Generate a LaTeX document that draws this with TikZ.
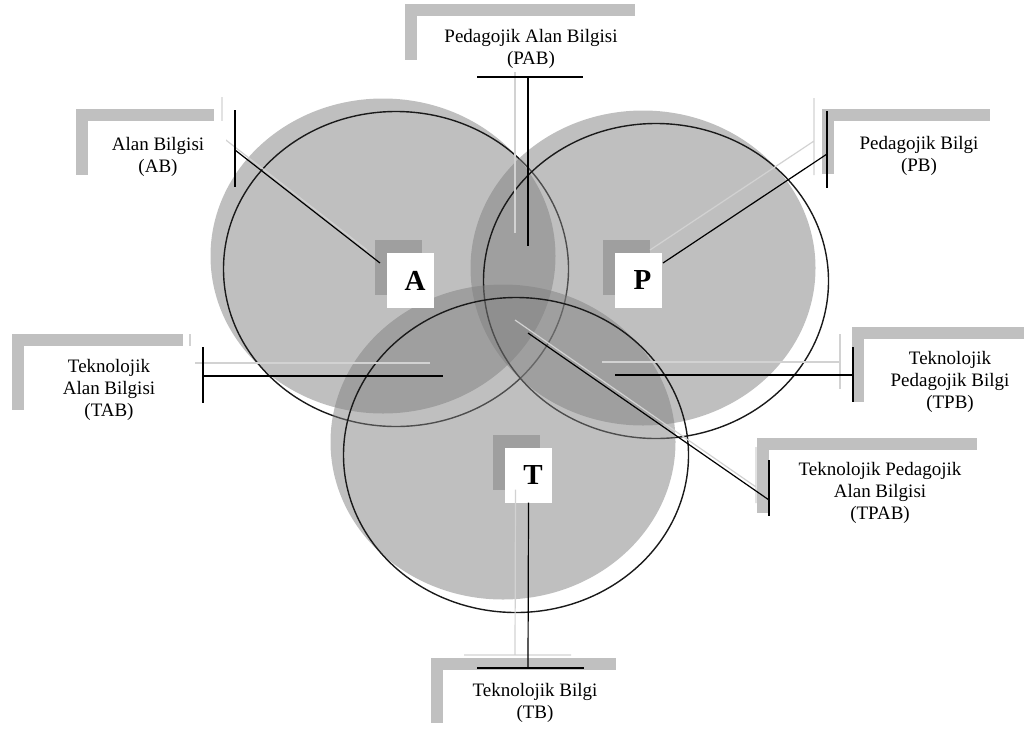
\documentclass[tikz,border=0pt]{standalone}
\usepackage{fontspec}
\setmainfont{Liberation Serif}
\usetikzlibrary{shapes.geometric,shadows}
\definecolor{framegray}{HTML}{C0C0C0}
\definecolor{ghostgray}{HTML}{D2D2D2}
\definecolor{rimgray}{HTML}{1A1A1A}

\begin{document}
\begin{tikzpicture}[
  x=1pt,y=-1pt,
  venn/.style={ellipse,draw=rimgray,line width=1.4pt,minimum width=345pt,minimum height=315pt,inner sep=0pt,
    drop shadow={shadow xshift=-13pt,shadow yshift=13pt,fill=black!50,opacity=.5}},
  letter/.style={fill=white,minimum width=47pt,minimum height=55pt,inner sep=0pt,
    font=\fontsize{29}{30}\selectfont\bfseries,
    drop shadow={shadow xshift=-12pt,shadow yshift=13pt,fill=black!50,opacity=.5}},
  infobox/.style={fill=white,inner sep=0pt,
    drop shadow={shadow xshift=-12pt,shadow yshift=12pt,fill=framegray,opacity=1}},
  note/.style={align=center,inner sep=0pt,font=\fontsize{19}{22}\selectfont},
  bar/.style={draw=black,line width=1.4pt},
  leader/.style={draw=black,line width=1.2pt},
  ghost/.style={draw=ghostgray,line width=1.2pt}
]
\useasboundingbox (0,0) rectangle (1024,729);

% Knowledge circles
\node[venn] (cA) at (396,269) {};
\node[venn] (cP) at (656,281) {};
\node[venn] (cT) at (516,455) {};

% Letters
\node[letter] (A) at (410.5,280.5) {\kern9pt A};
\node[letter] (P) at (638,280) {\kern9pt P};
\node[letter] (T) at (528.5,475) {\kern9pt T};

% Callout points: accent bar (a,b), knee (k), end (e)
\path (235,110) coordinate (AB-a) (235,187) coordinate (AB-b) (235,150) coordinate (AB-k) (380,263) coordinate (AB-e);
\path (477,77) coordinate (PAB-a) (583,77) coordinate (PAB-b) (528,77) coordinate (PAB-k) (528,246) coordinate (PAB-e);
\path (827,111) coordinate (PB-a) (827,188) coordinate (PB-b) (827,154) coordinate (PB-k) (663,263) coordinate (PB-e);
\path (203,347) coordinate (TAB-a) (203,403) coordinate (TAB-b) (203,376) coordinate (TAB-k) (443,376) coordinate (TAB-e);
\path (853,347) coordinate (TPB-a) (853,402) coordinate (TPB-b) (853,375) coordinate (TPB-k) (615,375) coordinate (TPB-e);
\path (769,460) coordinate (TPAB-a) (769,516) coordinate (TPAB-b) (769,500) coordinate (TPAB-k) (528,333) coordinate (TPAB-e);
\path (477,668) coordinate (TB-a) (584,668) coordinate (TB-b) (528,668) coordinate (TB-k) (T.south) coordinate (TB-e);

% Callout shadows
\begin{scope}[transform canvas={shift={(-13,-13)}}]
  \foreach \c in {AB,PAB,PB,TAB,TPB,TPAB,TB}
    \draw[ghost] (\c-a) -- (\c-b) (\c-k) -- (\c-e);
\end{scope}

% Label boxes
\node[infobox,minimum width=138pt,minimum height=66pt] (AB) at (157,154) {};
\node[infobox,minimum width=230pt,minimum height=56pt] (PAB) at (532,44) {};
\node[infobox,minimum width=168pt,minimum height=65pt] (PB) at (918,153.5) {};
\node[infobox,minimum width=171pt,minimum height=76pt] (TAB) at (109.5,384) {};
\node[infobox,minimum width=172pt,minimum height=75pt] (TPB) at (950,376.5) {};
\node[infobox,minimum width=220pt,minimum height=75pt] (TPAB) at (879,487.5) {};
\node[infobox,minimum width=185pt,minimum height=65pt] (TB) at (535.5,702.5) {};

% Label texts
\node[note] (AB-t) at (158,157) {Alan Bilgisi\\(AB)};
\node[note] (PAB-t) at (531,49) {Pedagojik Alan Bilgisi\\(PAB)};
\node[note] (PB-t) at (919,155.5) {Pedagojik Bilgi\\(PB)};
\node[note] (TAB-t) at (109,389.5) {Teknolojik\\Alan Bilgisi\\(TAB)};
\node[note] (TPB-t) at (950,381.5) {Teknolojik\\Pedagojik Bilgi\\(TPB)};
\node[note] (TPAB-t) at (880,493) {Teknolojik Pedagojik\\Alan Bilgisi\\(TPAB)};
\node[note] (TB-t) at (535,702.5) {Teknolojik Bilgi\\(TB)};

% Callout lines
\foreach \c in {AB,PAB,PB,TAB,TPB,TPAB,TB}{
  \draw[bar] (\c-a) -- (\c-b);
  \draw[leader] (\c-k) -- (\c-e);
}
\end{tikzpicture}
\end{document}
